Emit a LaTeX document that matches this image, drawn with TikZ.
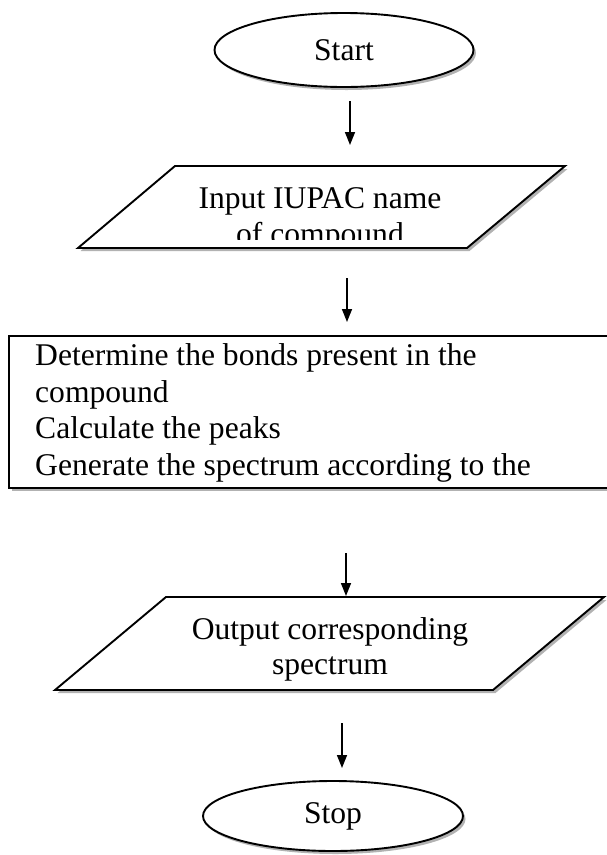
\documentclass[tikz,border=0pt]{standalone}
\usepackage{fontspec}
\setmainfont{Liberation Serif}
\usetikzlibrary{shapes.geometric,shadows,arrows.meta}

\begin{document}
\begin{tikzpicture}[x=1pt,y=-1pt,
	flowbox/.style={draw, line width=1.9pt, fill=white,
		drop shadow={shadow xshift=2.5pt, shadow yshift=-3pt, fill=black!30, opacity=1}},
	flowarrow/.style={-{Triangle[length=13pt,width=10pt]}, line width=1.5pt},
	flowtext/.style={inner sep=0pt, font=\fontsize{31.6}{36.3}\selectfont}]
	\useasboundingbox (0,0) rectangle (606,855);
	% start and input
	\node [flowbox, ellipse, flowtext, minimum width=259pt, minimum height=74pt] (start) at (344,50) {Start};
	\draw [flowbox] (175,166) -- (565,166) -- (467,248) -- (78,248) -- cycle;
	\node [flowtext, anchor=base] (input) at (320,208) {Input IUPAC name};
	\begin{scope}
		\clip (78,166) rectangle (606,239);
		\node [flowtext, anchor=base] (inputb) at (320,244) {of compound};
	\end{scope}
	% process
	\draw [flowbox] (9,336) rectangle (614,488);
	\node [flowtext, anchor=base west] (proc1) at (35,365) {Determine the bonds present in the};
	\node [flowtext, anchor=base west] (proc2) at (35,402) {compound};
	\node [flowtext, anchor=base west] (proc3) at (35,438) {Calculate the peaks};
	\node [flowtext, anchor=base west] (proc4) at (35,475) {Generate the spectrum according to the};
	% output and stop
	\draw [flowbox] (166,597) -- (604,597) -- (493,690) -- (55,690) -- cycle;
	\node [flowtext, anchor=base] (output) at (330,639) {Output corresponding};
	\node [flowtext, anchor=base] (outputb) at (330,674) {spectrum};
	\node [flowbox, ellipse, flowtext, minimum width=260pt, minimum height=70pt] (stop) at (333,816) {Stop};
	% arrows
	\coordinate (A1) at (350,101);
		\coordinate (B1) at (350,145);
	\coordinate (A2) at (347,278);
		\coordinate (B2) at (347,322);
	\coordinate (A3) at (346,553);
		\coordinate (B3) at (346,596);
	\coordinate (A4) at (342,723);
		\coordinate (B4) at (342,768);
	\draw [flowarrow] (A1) -- (B1);
	\draw [flowarrow] (A2) -- (B2);
	\draw [flowarrow] (A3) -- (B3);
	\draw [flowarrow] (A4) -- (B4);
\end{tikzpicture}
\end{document}
